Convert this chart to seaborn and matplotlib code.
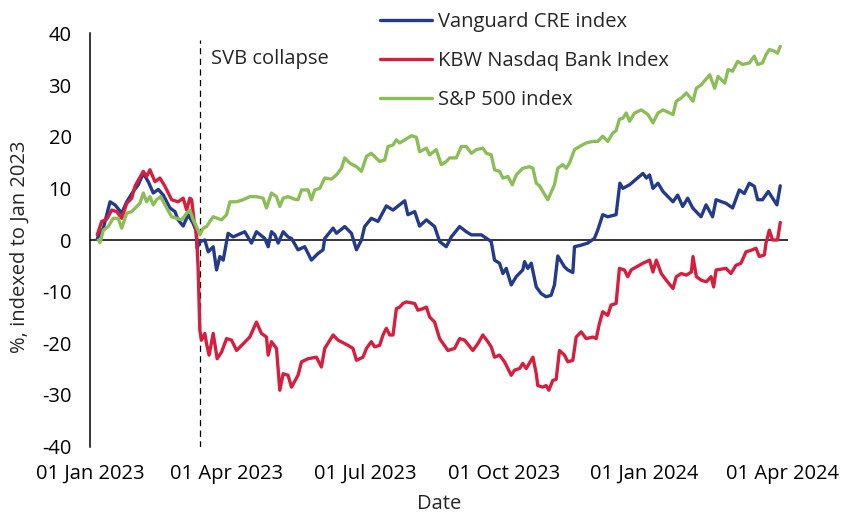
import matplotlib
matplotlib.use("Agg")
import matplotlib.pyplot as plt
import matplotlib.dates as mdates
import seaborn as sns
import pandas as pd

# ---- data (x = days after 01 Jan 2023, y = % indexed to Jan 2023) ----
series_names = ["Vanguard CRE index", "KBW Nasdaq Bank Index", "S&P 500 index"]

cre_days = [4.6, 8.6, 13.0, 16.3, 20.7, 24.0, 28.3, 31.6, 34.9, 38.2, 41.5, 44.8, 48.1, 52.5, 55.8,
            57.9, 61.2, 64.5, 67.8, 69.6, 70.4, 72.2, 75.5, 77.7, 81.0, 83.2, 85.4, 87.6, 90.8, 94.1,
            101.8, 106.2, 109.5, 115.0, 117.2, 119.4, 121.6, 123.8, 127.1, 130.3, 132.6, 136.9, 141.3,
            145.7, 150.1, 153.4, 154.5, 160.0, 162.2, 167.7, 172.1, 175.4, 178.7, 180.8, 185.2, 189.6,
            195.1, 199.5, 207.2, 209.3, 213.8, 217.0, 221.5, 226.9, 230.2, 234.6, 237.9, 243.4, 247.8,
            251.1, 257.7, 264.2, 266.4, 269.7, 271.9, 274.1, 277.4, 280.7, 285.0, 286.2, 288.3, 290.6,
            293.9, 297.2, 300.4, 303.7, 305.9, 308.1, 312.5, 314.7, 318.0, 319.1, 323.5, 327.8, 332.2,
            334.4, 337.7, 341.0, 346.5, 349.0, 351.0, 355.4, 364.2, 366.5, 368.6, 370.8, 374.1, 377.4,
            384.0, 387.1, 390.4, 393.7, 397.0, 402.5, 405.8, 410.1, 412.4, 419.0, 423.3, 427.7, 431.0,
            434.3, 437.6, 439.8, 443.0, 446.8, 452.5, 454.7]
cre_vals = [0.3, 2.3, 7.4, 6.8, 5.2, 7.4, 9.4, 10.7, 12.9, 11.3, 9.1, 9.8, 8.7, 6.2, 5.5,
            3.9, 2.7, 4.9, 3.2, 1.9, -1.6, -0.3, 0.0, -2.3, -1.3, -5.8, -3.2, -3.9, 1.3, 0.6,
            1.6, -0.6, 1.6, 0.3, -1.3, 1.6, 1.0, -0.6, 1.6, 0.6, 0.3, -1.9, -1.3,
            -3.9, -2.6, -1.9, 0.3, 2.3, 1.3, 2.6, 1.3, -1.9, 0.0, 2.6, 4.2, 3.6,
            6.6, 5.8, 7.6, 4.9, 5.5, 2.7, 3.9, 2.6, -0.3, -1.3, 0.6, 2.6, 1.6,
            1.0, 1.0, -0.3, -3.9, -4.5, -6.5, -5.5, -8.7, -7.1, -5.8, -4.2, -5.5, -4.5,
            -9.1, -10.4, -11.0, -10.7, -8.7, -3.1, -5.2, -5.8, -6.3, -1.3, -1.0, -0.6, 0.3,
            1.9, 4.9, 4.5, 4.9, 11.0, 10.0, 10.7, 12.9, 12.0, 12.6, 10.0, 11.0, 9.4,
            7.4, 8.7, 6.5, 8.1, 6.2, 4.5, 6.8, 4.5, 7.8, 7.1, 6.2, 9.7, 9.0,
            11.0, 10.4, 7.8, 7.8, 9.4, 6.8, 10.5]

kbw_days = [4.6, 7.5, 10.8, 14.1, 17.4, 20.7, 24.0, 27.3, 29.4, 34.9, 37.1, 39.3, 42.6, 45.9, 49.2,
            53.6, 57.9, 61.2, 63.5, 65.6, 66.8, 68.3, 70.0, 71.1, 72.2, 73.3, 75.5, 76.6, 78.3, 81.0,
            83.6, 86.5, 89.8, 93.1, 96.4, 100.7, 105.1, 109.5, 112.8, 116.1, 117.2, 119.4, 122.7,
            124.9, 127.1, 130.3, 132.6, 136.9, 139.2, 143.5, 149.0, 152.3, 154.5, 160.0, 163.3, 169.8,
            173.1, 175.4, 179.7, 182.0, 185.2, 187.4, 190.7, 192.9, 195.1, 197.3, 199.5, 201.7, 203.9,
            206.0, 208.3, 213.8, 215.9, 219.2, 221.5, 223.6, 226.9, 230.2, 235.7, 240.1, 243.4, 246.7,
            252.1, 255.4, 258.7, 262.0, 264.2, 266.4, 269.7, 273.0, 277.4, 279.6, 282.9, 285.0, 287.3,
            291.7, 293.9, 294.9, 298.2, 300.4, 302.2, 304.8, 307.0, 309.2, 312.5, 314.7, 318.0, 320.2,
            323.5, 326.8, 331.2, 333.4, 335.5, 337.7, 341.0, 343.2, 346.5, 348.7, 352.0, 354.2, 356.4,
            364.2, 368.6, 370.8, 373.0, 376.3, 379.6, 384.0, 386.2, 389.5, 392.8, 396.1, 397.2, 399.4,
            402.7, 406.0, 409.1, 410.8, 412.4, 419.0, 422.2, 425.5, 428.8, 432.1, 435.4, 438.7, 440.9,
            444.2, 445.3, 447.5, 449.6, 452.9, 454.7]
kbw_vals = [1.0, 3.6, 4.0, 5.8, 5.5, 4.2, 7.1, 8.1, 10.4, 13.3, 12.3, 13.6, 11.3, 12.0, 10.4,
            7.8, 7.4, 8.1, 5.8, 8.1, 7.8, 3.9, 1.3, -5.8, -17.5, -19.4, -18.1, -20.1, -22.3, -18.1,
            -23.0, -21.7, -19.1, -19.4, -21.4, -20.1, -18.8, -15.9, -18.1, -18.8, -22.3, -19.7, -21.0,
            -29.1, -25.9, -26.2, -28.5, -26.2, -23.6, -23.0, -22.7, -24.6, -21.0, -18.4, -19.4, -20.4,
            -21.0, -23.3, -22.7, -21.0, -19.7, -20.7, -20.4, -18.4, -17.1, -18.4, -18.4, -13.3, -13.0,
            -12.3, -12.0, -12.3, -13.6, -13.3, -13.0, -14.9, -15.9, -19.1, -21.4, -21.0, -19.1, -19.4,
            -21.4, -20.1, -18.4, -19.7, -20.7, -22.7, -22.3, -23.6, -26.2, -25.2, -24.9, -23.9, -24.9,
            -22.7, -25.9, -28.2, -28.5, -28.2, -29.1, -27.2, -27.0, -21.4, -22.3, -23.6, -23.3, -18.8,
            -17.8, -19.1, -18.8, -19.1, -16.2, -13.9, -14.6, -12.6, -12.3, -5.5, -5.8, -7.1, -5.8,
            -4.5, -3.9, -6.2, -3.9, -6.5, -7.8, -9.4, -7.1, -6.5, -6.8, -6.2, -3.2, -7.1,
            -7.8, -8.1, -7.1, -9.1, -5.8, -5.5, -6.5, -4.9, -4.5, -2.3, -2.0, -1.6, -3.2,
            -2.9, -0.6, 1.9, 0.0, 0.0, 3.4]

spx_days = [5.3, 6.4, 8.6, 11.8, 15.1, 18.4, 20.7, 24.0, 27.3, 32.7, 34.9, 37.1, 39.3, 41.5, 43.7,
            46.3, 49.2, 53.6, 56.9, 60.2, 63.5, 65.6, 67.8, 70.0, 72.2, 74.4, 76.6, 78.8, 81.0, 86.5,
            89.8, 92.0, 96.4, 100.7, 105.1, 109.5, 113.9, 116.1, 119.4, 122.7, 124.9, 127.1, 130.3,
            134.8, 136.9, 139.2, 143.5, 145.7, 147.9, 151.2, 154.5, 158.9, 162.2, 165.5, 167.7, 171.0,
            175.4, 178.7, 182.0, 185.2, 190.7, 194.0, 196.2, 199.5, 201.7, 203.9, 207.2, 211.6, 214.9,
            217.0, 221.5, 223.6, 228.0, 231.3, 234.6, 236.8, 241.2, 244.5, 247.8, 251.1, 254.4, 258.7,
            261.0, 264.2, 266.4, 269.7, 271.9, 275.2, 278.1, 280.7, 285.0, 289.5, 291.7, 293.9, 296.0,
            301.5, 305.9, 308.1, 311.4, 313.6, 315.8, 319.1, 322.4, 326.8, 331.2, 334.4, 337.7, 341.0,
            344.3, 346.5, 348.7, 351.0, 353.2, 355.4, 358.7, 363.1, 367.5, 370.8, 374.1, 377.4, 384.0,
            386.2, 389.5, 392.8, 397.2, 399.4, 402.7, 408.2, 411.5, 413.7, 418.1, 420.3, 423.3, 426.6,
            429.9, 434.3, 437.6, 439.8, 443.0, 445.3, 447.5, 450.7, 452.9, 454.7]
spx_vals = [0.0, -0.5, 1.9, 2.6, 4.2, 4.2, 2.3, 5.2, 5.5, 7.1, 9.1, 7.4, 8.4, 6.8, 7.8,
            8.4, 6.8, 4.5, 4.2, 3.9, 5.2, 5.8, 3.9, 2.6, 1.0, 2.3, 2.6, 3.6, 4.5, 3.9,
            4.9, 7.4, 7.4, 7.8, 8.4, 8.4, 8.1, 6.2, 9.1, 8.4, 6.5, 8.1, 8.4,
            7.9, 7.8, 9.7, 9.7, 7.8, 9.7, 10.0, 12.0, 11.8, 12.6, 13.9, 15.9, 14.9,
            14.2, 13.3, 16.2, 16.8, 15.2, 15.5, 18.1, 18.4, 19.4, 18.8, 19.4, 20.2, 19.9,
            17.1, 17.8, 16.5, 17.5, 14.6, 15.2, 15.9, 15.9, 18.1, 18.1, 16.8, 17.5, 17.8,
            16.8, 16.5, 13.6, 13.3, 12.0, 12.3, 10.7, 12.6, 13.9, 14.2, 13.9, 11.0, 10.5,
            7.8, 10.7, 13.9, 14.6, 13.9, 14.9, 17.5, 18.1, 18.8, 19.1, 19.1, 20.1, 19.1,
            20.7, 21.2, 23.4, 23.6, 24.6, 23.0, 24.6, 25.2, 24.3, 22.7, 24.6, 25.2, 24.3,
            26.9, 27.5, 28.5, 26.9, 29.4, 30.1, 32.0, 29.4, 31.7, 30.4, 33.0, 32.7, 34.6,
            34.0, 34.3, 35.6, 34.0, 34.3, 35.9, 36.9, 36.6, 36.2, 37.5]

start_date = "2023-01-01"
end_date = "2024-04-05"
svb_date = "2023-03-14"
svb_label = "SVB collapse"
y_ticks = [-40, -30, -20, -10, 0, 10, 20, 30, 40]
colors = ["#243A8A", "#D81E3E", "#8CBE58"]

# ---- build long-form table ----
start = pd.Timestamp(start_date)
frames = []
for name, d, v in zip(series_names, [cre_days, kbw_days, spx_days], [cre_vals, kbw_vals, spx_vals]):
    frames.append(pd.DataFrame({"Date": start + pd.to_timedelta(d, unit="D"),
                                "value": v, "series": name}))
df = pd.concat(frames, ignore_index=True)

sns.set_style("white")
plt.rcParams["font.family"] = ["Open Sans", "DejaVu Sans"]
plt.rcParams["axes.unicode_minus"] = False
FS = 14.5

fig = plt.figure(figsize=(8.43, 5.15), dpi=100)
ax = fig.add_axes([90.3 / 843, 1 - 446.5 / 515, (788.3 - 90.3) / 843, 413 / 515])

ax.axhline(0, color="black", lw=1.1, zorder=1)
ax.axvline(pd.Timestamp(svb_date), ymin=0, ymax=0.985, color="black", lw=0.9,
           dashes=(5, 3.5), zorder=1)

sns.lineplot(data=df, x="Date", y="value", hue="series", hue_order=series_names,
             palette=colors, linewidth=2.4, ax=ax, estimator=None, legend=True)

ax.annotate(svb_label, xy=(pd.Timestamp(svb_date), 35.0), xytext=(8, 0),
            textcoords="offset points", va="center", ha="left", fontsize=FS)

ax.set_xlim(start, pd.Timestamp(end_date))
ax.set_ylim(-40, 40)
ax.set_yticks(y_ticks)
ax.xaxis.set_major_locator(mdates.MonthLocator(bymonth=[1, 4, 7, 10], bymonthday=1))
ax.xaxis.set_major_formatter(mdates.DateFormatter("%d %b %Y"))
ax.tick_params(axis="both", length=0, labelsize=FS, colors="black")
ax.tick_params(axis="y", pad=13.5)
ax.tick_params(axis="x", pad=12.5)

for s in ["top", "right", "bottom"]:
    ax.spines[s].set_visible(False)
ax.spines["left"].set_color("black")
ax.spines["left"].set_linewidth(1.1)

ax.set_xlabel("Date", fontsize=FS, labelpad=7)
ax.set_ylabel("%, indexed to Jan 2023", fontsize=FS)
ax.yaxis.set_label_coords(-0.087, 0.483)

handles, labels = ax.get_legend_handles_labels()
ax.get_legend().remove()
fig.legend(handles, labels, loc="upper left", bbox_to_anchor=(380 / 843, 1 - 12 / 515),
           frameon=False, fontsize=FS, handlelength=2.6, handletextpad=0.3,
           labelspacing=0.95, borderpad=0, borderaxespad=0)

fig.savefig("out.png", dpi=100)
